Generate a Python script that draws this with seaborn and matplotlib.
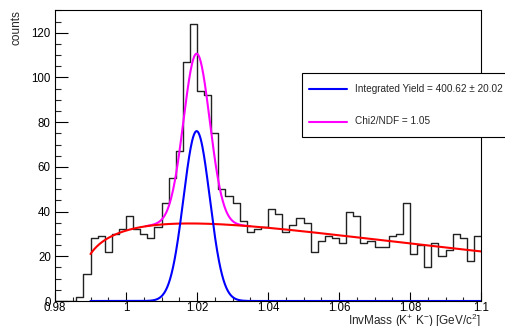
import numpy as np
import pandas as pd
import seaborn as sns
import matplotlib
matplotlib.use("Agg")
import matplotlib.pyplot as plt
from matplotlib.patches import Rectangle
from matplotlib.lines import Line2D

# ---------------- data ----------------
x_min, x_max, bin_width = 0.98, 1.10, 0.002
counts = [0, 0, 0, 2, 12, 28, 29, 22, 30, 32,
          38, 32, 30, 28, 33, 44, 55, 67, 107, 124,
          94, 92, 75, 50, 47, 44, 36, 31, 32, 33,
          41, 39, 31, 34, 37, 35, 22, 27, 29, 28,
          26, 40, 38, 26, 27, 24, 24, 29, 30, 44,
          21, 25, 15, 26, 20, 23, 30, 28, 18, 29]

# signal (gaussian) fit parameters
sig_amp, sig_mean, sig_sigma = 76.0, 1.0199, 0.0037
# background threshold-function fit parameters
bg_amp, bg_thr, bg_pow, bg_slope = 148.5, 0.9874, 0.324, 10.6
fit_lo, fit_hi = 0.99, 1.10
tot_lo, tot_hi = 1.0055, 1.035

x_ticks = [0.98, 1.0, 1.02, 1.04, 1.06, 1.08, 1.1]
x_tick_labels = ["0.98", "1", "1.02", "1.04", "1.06", "1.08", "1.1"]
y_ticks = [0, 20, 40, 60, 80, 100, 120]
legend_labels = ["Integrated Yield = 400.62 \u00b1 20.02", "Chi2/NDF = 1.05"]

# ---------------- style ----------------
sns.set_style("ticks")
plt.rcParams["font.family"] = ["Liberation Sans", "DejaVu Sans"]
plt.rcParams["mathtext.fontset"] = "custom"
plt.rcParams["mathtext.rm"] = "Liberation Sans"
plt.rcParams["mathtext.it"] = "Liberation Sans:italic"
plt.rcParams["mathtext.default"] = "regular"

W, H, DPI = 505, 326, 100
fig = plt.figure(figsize=(W / DPI, H / DPI), dpi=DPI)
fig.patch.set_facecolor("white")
ax = fig.add_axes([55 / W, 1 - 301 / H, (481 - 55) / W, (301 - 10) / H])

edges = [float(e) for e in x_min + bin_width * np.arange(len(counts) + 1)]
centers = [e + bin_width / 2 for e in edges[:-1]]
df = pd.DataFrame({"mass": centers, "counts": counts})

sns.histplot(data=df, x="mass", weights="counts", bins=edges, element="step",
             fill=False, color="#222222", linewidth=1.0, ax=ax)


def sig(x):
    return sig_amp * np.exp(-0.5 * ((x - sig_mean) / sig_sigma) ** 2)


def bg(x):
    u = x - bg_thr
    return bg_amp * u ** bg_pow * np.exp(-bg_slope * u)


xf = np.linspace(fit_lo, fit_hi, 800)
xt = np.linspace(tot_lo, tot_hi, 400)
sns.lineplot(x=xt, y=sig(xt) + bg(xt), color="#ff00ff", linewidth=1.5,
             sort=False, estimator=None, ax=ax)
sns.lineplot(x=xf, y=bg(xf), color="#ff0000", linewidth=1.5,
             sort=False, estimator=None, ax=ax)
sns.lineplot(x=xf, y=sig(xf), color="#0000ff", linewidth=1.5,
             sort=False, estimator=None, ax=ax)

ax.set_xlim(x_min, x_max)
ax.set_ylim(0, 130.2)
ax.set_xticks(x_ticks)
ax.set_xticklabels(x_tick_labels)
ax.set_yticks(y_ticks)
ax.set_xticks(np.arange(0.98, 1.1001, 0.005), minor=True)
ax.set_yticks(np.arange(0, 131, 5), minor=True)
ax.tick_params(axis="x", which="major", direction="in", length=6.3, width=0.8,
               labelsize=8.3, pad=1.0, colors="black")
ax.tick_params(axis="x", which="minor", direction="in", length=3.1, width=0.8)
ax.tick_params(axis="y", which="major", direction="in", length=9.2, width=0.8,
               labelsize=8.3, pad=3, colors="black")
ax.tick_params(axis="y", which="minor", direction="in", length=4.6, width=0.8)
for s in ax.spines.values():
    s.set_visible(True)
    s.set_linewidth(0.8)
    s.set_color("black")
ax.set_xlabel("")
ax.set_ylabel("")

# axis titles (ROOT style: at the ends of the axes)
fig.text(481 / W, 1 - 324.5 / H, "InvMass (K$^{+}$ K$^{-}$) [GeV/c$^{2}$]",
         ha="right", va="baseline", fontsize=8.5)
fig.text(17 / W, 1 - 10 / H, "counts", rotation=90, ha="center", va="top",
         fontsize=8.5)

# legend box
box = Rectangle((302 / W, 1 - 137 / H), (520 - 302) / W, (137 - 73) / H,
                transform=fig.transFigure, facecolor="white", edgecolor="black",
                linewidth=0.8, zorder=5)
fig.add_artist(box)
for yy, col, lab in [(88.5, "#0000ff", legend_labels[0]),
                     (121.5, "#ff00ff", legend_labels[1])]:
    fig.add_artist(Line2D([309 / W, 347 / W], [1 - yy / H, 1 - yy / H],
                          transform=fig.transFigure, color=col, linewidth=1.5,
                          zorder=6))
    fig.text(355 / W, 1 - yy / H, lab, ha="left", va="center", fontsize=7.2,
             zorder=7)

fig.savefig("out.png", dpi=DPI)
